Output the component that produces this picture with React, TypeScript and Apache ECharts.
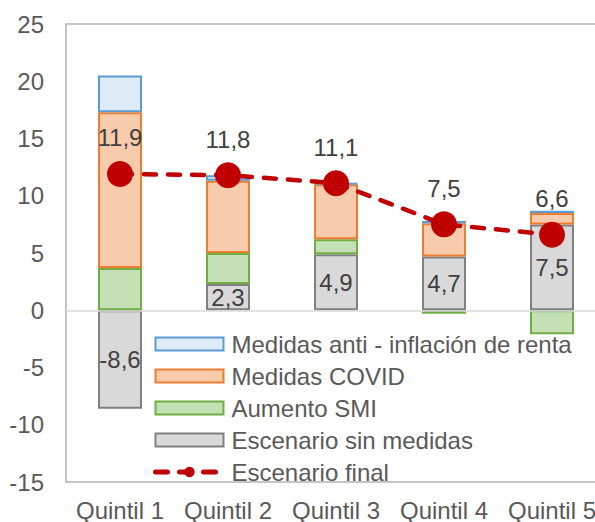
import React, { useEffect, useRef } from "react";
import * as echarts from "echarts";

const categories = ["Quintil 1", "Quintil 2", "Quintil 3", "Quintil 4", "Quintil 5"];
const sinMedidas = [-8.6, 2.3, 4.9, 4.7, 7.5];
const aumentoSMI = [3.7, 2.7, 1.3, -0.3, -2.1];
const medidasCOVID = [13.6, 6.3, 4.8, 2.9, 1.0];
const antiInflacion = [3.2, 0.5, 0.1, 0.2, 0.2];
const escenarioFinal = [11.9, 11.8, 11.1, 7.5, 6.6];

const FONT = "'Liberation Sans', Arial, sans-serif";
const TXT = "#595959";
const FS = 24;
const fmt = (v: number) => String(v).replace(".", ",");

export default function App() {
  const ref = useRef<HTMLDivElement>(null);
  useEffect(() => {
    if (!ref.current) return;
    const chart = echarts.init(ref.current, null, { renderer: "svg" });
    const barBase = (name: string, data: number[], fill: string, border: string) => ({
      name,
      type: "bar",
      stack: "total",
      barWidth: 44,
      data,
      itemStyle: { color: fill, borderColor: border, borderWidth: 2 },
    });
    chart.setOption({
      animation: false,
      textStyle: { fontFamily: FONT },
      grid: {
        left: 66,
        top: 24,
        right: 0,
        bottom: 37,
        show: true,
        borderColor: "#b3b3b3",
        borderWidth: 1.5,
      },
      legend: {
        orient: "vertical",
        left: 153,
        top: 331,
        padding: 0,
        itemWidth: 68,
        itemHeight: 13,
        itemGap: 6,
        textStyle: { fontSize: FS, color: TXT, fontFamily: FONT, lineHeight: 26, padding: [0, 0, 0, 3] },
        data: [
          { name: "Medidas anti - inflación de renta", icon: "rect" },
          { name: "Medidas COVID", icon: "rect" },
          { name: "Aumento SMI", icon: "rect" },
          { name: "Escenario sin medidas", icon: "rect" },
          { name: "Escenario final", lineStyle: { width: 5 } },
        ],
      },
      xAxis: {
        type: "category",
        data: categories,
        axisLine: { show: false },
        axisTick: { show: false },
        axisLabel: { color: TXT, fontSize: FS, fontFamily: FONT, margin: 16, interval: 0 },
        splitLine: { show: false },
      },
      yAxis: {
        type: "value",
        min: -15,
        max: 25,
        interval: 5,
        axisLine: { show: false },
        axisTick: { show: false },
        splitLine: { show: false },
        axisLabel: { color: TXT, fontSize: FS, fontFamily: FONT, margin: 22 },
      },
      series: [
        {
          ...barBase("Escenario sin medidas", sinMedidas, "#d9d9d9", "#808080"),
          label: {
            show: true,
            position: "inside",
            color: "#404040",
            fontSize: FS,
            fontFamily: FONT,
            formatter: (p: any) => fmt(p.value),
          },
          markLine: {
            silent: true,
            symbol: "none",
            label: { show: false },
            lineStyle: { color: "#d9d9d9", type: "solid", width: 1.5 },
            data: [{ yAxis: 0 }],
          },
        },
        barBase("Aumento SMI", aumentoSMI, "#c5e0b4", "#70ad47"),
        barBase("Medidas COVID", medidasCOVID, "#f8cbad", "#ed7d31"),
        barBase("Medidas anti - inflación de renta", antiInflacion, "#deebf7", "#5b9bd5"),
        {
          name: "Escenario final",
          type: "line",
          data: escenarioFinal,
          symbol: "circle",
          symbolSize: 26,
          z: 5,
          itemStyle: { color: "#c00000" },
          lineStyle: { color: "#c00000", width: 4.5, type: [12, 12], cap: "round" },
          label: {
            show: true,
            position: "top",
            distance: 11,
            color: "#404040",
            fontSize: FS,
            fontFamily: FONT,
            formatter: (p: any) => fmt(p.value),
          },
        },
      ],
    });
    return () => chart.dispose();
  }, []);
  return (
    <div style={{ position: "fixed", left: 0, top: 0, width: 595, height: 522, overflow: "hidden", background: "#fff" }}>
      <div ref={ref} style={{ width: 606, height: 522 }} />
    </div>
  );
}
